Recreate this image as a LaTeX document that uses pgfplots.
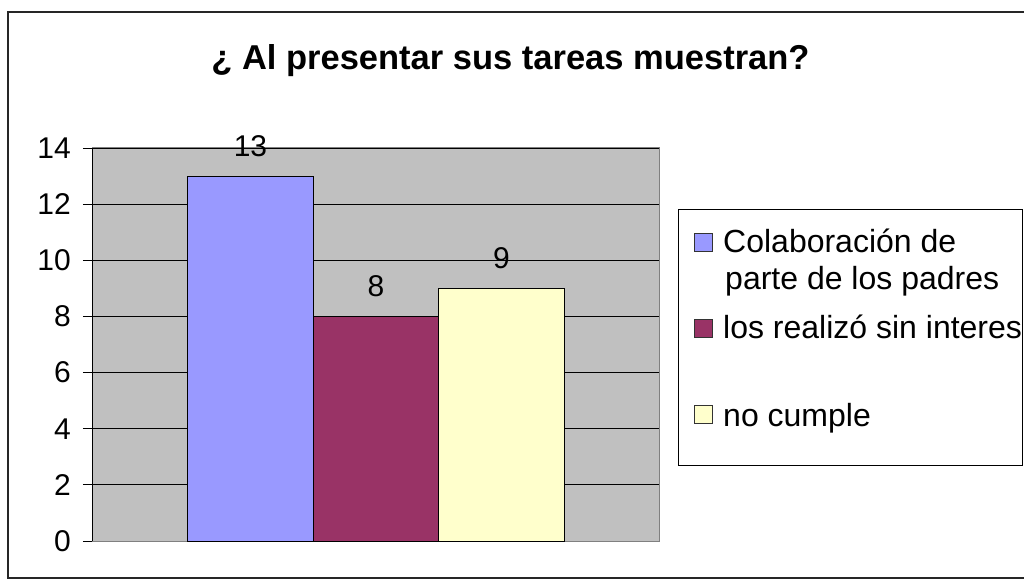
\documentclass[border=0pt]{standalone}
\usepackage{pgfplots}
\pgfplotsset{compat=1.18}
\usepackage{fontspec}
\setmainfont{Liberation Sans}
\definecolor{cblue}{HTML}{9999FF}
\definecolor{cmaroon}{HTML}{993366}
\definecolor{cyellow}{HTML}{FFFFCC}
\definecolor{cgray}{HTML}{C0C0C0}
\definecolor{cframe}{HTML}{808080}
\begin{document}
\begin{tikzpicture}[x=1pt,y=1pt]
\useasboundingbox (0,0) rectangle (1024,581);
\draw[line width=1.3pt,black!85] (8,3) rectangle (1040,569);
\node[font=\fontsize{34.5}{41}\selectfont\bfseries] at (510.5,520) {¿ Al presentar sus tareas muestran?};
\begin{axis}[
  at={(92pt,40pt)}, anchor=south west,
  scale only axis, width=567pt, height=393pt,
  xmin=-1, xmax=1, ymin=0, ymax=14,
  ytick={0,2,...,14}, xtick=\empty,
  axis background/.style={fill=cgray},
  axis line style={draw=cframe, line width=1pt},
  ymajorgrids, major grid style={black, line width=0.9pt},
  tick align=outside, major tick length=9pt,
  tick style={black, line width=0.9pt},
  ytick pos=left,
  yticklabel style={font=\fontsize{30}{36}\selectfont, inner sep=0pt, xshift=-12pt},
  /pgf/number format/assume math mode=true,
  ybar, bar width=125.5pt,
  nodes near coords,
  every node near coord/.append style={font=\fontsize{30}{36}\selectfont, inner sep=0pt, yshift=19pt, black},
  clip=false,
]
\addplot[fill=cblue, draw=black, line width=0.8pt, bar shift=-125pt] coordinates {(0,13)};
\addplot[fill=cmaroon, draw=black, line width=0.8pt, bar shift=0.5pt] coordinates {(0,8)};
\addplot[fill=cyellow, draw=black, line width=0.8pt, bar shift=126pt] coordinates {(0,9)};
\draw[black, line width=1pt] (rel axis cs:0,0) -- (rel axis cs:0,1);
\end{axis}
% legend
\draw[black, line width=1pt, fill=white] (678,116) rectangle (1022,371);
\begin{scope}[font=\fontsize{32}{38}\selectfont]
\draw[black!80, fill=cblue] (694,330) rectangle (712,348);
\node[anchor=base west, inner sep=0pt] at (723,328) {Colaboración de};
\node[anchor=base west, inner sep=0pt] at (725,291) {parte de los padres};
\draw[black!80, fill=cmaroon] (694,244) rectangle (712,262);
\node[anchor=base west, inner sep=0pt] at (723,242) {los realizó sin interes};
\draw[black!80, fill=cyellow] (694,158) rectangle (712,176);
\node[anchor=base west, inner sep=0pt] at (723,155) {no cumple};
\end{scope}
\end{tikzpicture}
\end{document}
